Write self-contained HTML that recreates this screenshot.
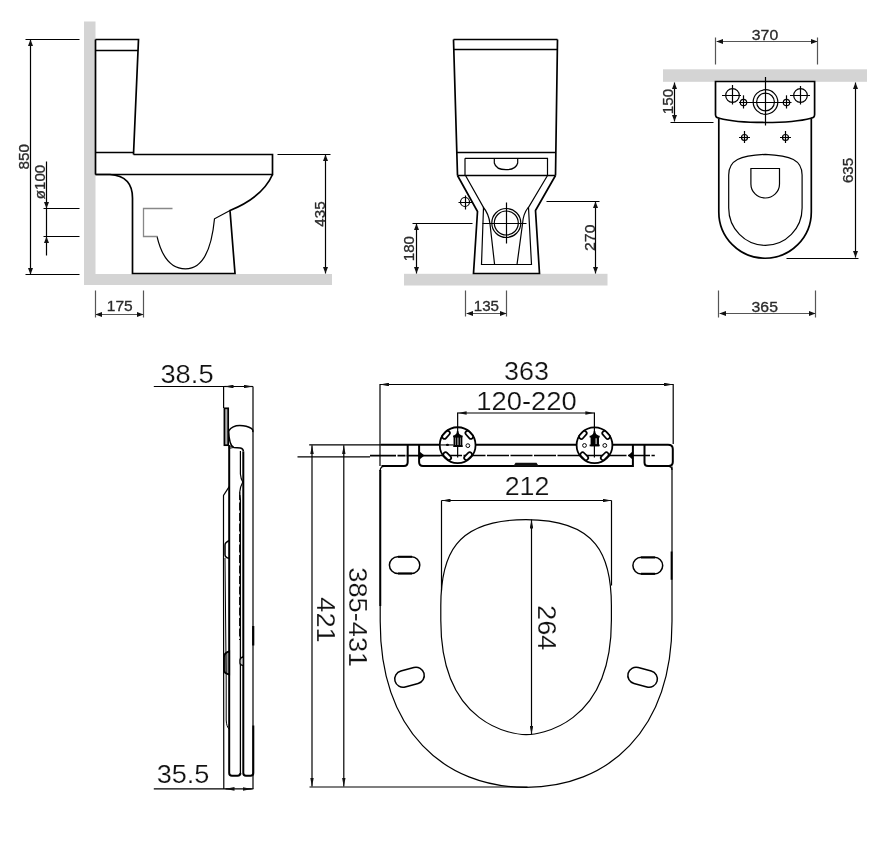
<!DOCTYPE html>
<html><head><meta charset="utf-8">
<style>
html,body{margin:0;padding:0;background:#fff;}
body{width:892px;height:844px;overflow:hidden;}
svg{display:block;font-family:"Liberation Sans",sans-serif;will-change:transform;}
.k{stroke:#000;fill:none;stroke-width:1.7;}
.t{stroke:#000;fill:none;stroke-width:1.2;}
.g{stroke:#555;fill:none;stroke-width:1.2;}
.d{stroke:#000;fill:none;stroke-width:1.2;}
.ah{fill:#111;stroke:none;}
.tx1{fill:#2a2a2a;stroke:#2a2a2a;stroke-width:0.3;}
.tx2{fill:#111;stroke:#fff;stroke-width:0.2;}
</style></head>
<body>
<svg width="892" height="844" viewBox="0 0 892 844">
<defs>
<marker id="a1" preserveAspectRatio="none" viewBox="0 0 10 10" refX="10" refY="5" markerWidth="6.5" markerHeight="5" orient="auto-start-reverse" markerUnits="userSpaceOnUse"><path d="M0,0 L10,5 L0,10 z" fill="#111"/></marker>
<marker id="a2" preserveAspectRatio="none" viewBox="0 0 10 10" refX="10" refY="5" markerWidth="9" markerHeight="3.6" orient="auto-start-reverse" markerUnits="userSpaceOnUse"><path d="M0,0 L10,5 L0,10 z" fill="#111"/></marker>
</defs>

<!-- ============ TOP LEFT: side view ============ -->
<g id="side">
<rect x="84" y="21.5" width="11.5" height="263.5" fill="#d4d4d4"/>
<rect x="84" y="274" width="248" height="11" fill="#d4d4d4"/>
<path class="k" d="M95.5,39.5 L138.5,39.5 L133.5,154.5 M95.5,50.5 L137.5,50.5 M95.5,152.5 L133.5,152.5 M133.5,154.5 L272.5,154.5 L272.5,174.5 L95.5,174.5 M95.5,39.5 L95.5,174.5"/>
<path class="k" d="M95.5,174.5 L110,174.5 Q132.5,176 132.5,198 L132.5,273.5 L235,273.5 L230,210.5 C248,203 265,192 272.5,174.5"/>
<path class="t" d="M230,210.5 L214.5,218.8 C212,245 205,268.8 185.5,268.8 C172,268.8 162,258 157,236.3"/>
<path stroke="#888" fill="none" stroke-width="1.3" d="M172.5,208.5 L143.5,208.5 L143.5,236.5 L157.5,236.5"/>
<!-- 850 -->
<path class="d" d="M25.5,39.5 L79.5,39.5 M25.5,274.5 L79.5,274.5"/>
<path class="d" d="M30.5,39.5 L30.5,274.5" marker-start="url(#a1)" marker-end="url(#a1)"/>
<!-- o100 -->
<path class="d" d="M43.5,208.5 L79.5,208.5 M43.5,236.5 L79.5,236.5"/>
<path class="d" d="M46.5,161.5 L46.5,208.5" marker-end="url(#a1)"/>
<path class="d" d="M46.5,255.5 L46.5,236.5" marker-end="url(#a1)"/>
<path class="d" d="M46.5,208.5 L46.5,236.5"/>
<!-- 435 -->
<path class="d" d="M277.5,154.5 L330.5,154.5"/>
<path class="d" d="M325.5,154.5 L325.5,273.5" marker-start="url(#a1)" marker-end="url(#a1)"/>
<!-- 175 -->
<path class="g" d="M95.5,290.5 L95.5,317.5 M143.5,290.5 L143.5,317.5"/>
<path class="g" d="M95.5,314.5 L143.5,314.5" marker-start="url(#a1)" marker-end="url(#a1)"/>
</g>

<!-- ============ TOP MIDDLE: front view ============ -->
<g id="front">
<rect x="404" y="273.8" width="203.5" height="11.7" fill="#d4d4d4"/>
<path class="k" d="M453.5,39.5 L557.5,39.5 M453.5,49.5 L557.5,49.5 M453.5,39.5 L457.5,175.5 M557.5,39.5 L555.5,175.5 M456.5,152.5 L555.5,152.5 M457.5,175.5 L555.5,175.5"/>
<path class="t" d="M465,158.3 L547.5,158.3 L547.5,175 M465,158.3 L465,175 M494.3,158.5 L494.3,163 Q496,169.7 506,169.7 Q516,169.7 517.7,163 L517.7,158.5"/>
<path class="k" d="M457.5,175.5 L477.5,211.5 L473.5,273.5 L539.5,273.5 L535.5,210.5 L555.5,175.5"/>
<path class="t" d="M465.5,175.5 L483.5,207.5 L481.5,264.5 L531.5,264.5 L528.5,207.5 L547.5,175.5"/>
<path class="t" d="M483.1,207 Q489,214 490,224 L494.6,264.6 M528.5,207 Q523,214 522.5,224 L517,264.6"/>
<circle class="t" cx="506.3" cy="223" r="14.5"/>
<circle class="t" cx="506.3" cy="223" r="12"/>
<path class="t" d="M506.5,202.5 L506.5,243.5 M482.5,223.5 L526.5,223.5"/>
<circle class="t" cx="465" cy="202" r="4.5"/>
<path class="t" d="M465.5,195.5 L465.5,209.5 M458.5,202.5 L472.5,202.5"/>
<!-- 180 -->
<path class="d" d="M412.5,223.5 L472.5,223.5"/>
<path class="d" d="M416.5,223.5 L416.5,273.5" marker-start="url(#a1)" marker-end="url(#a1)"/>
<!-- 270 -->
<path class="d" d="M546.5,201.5 L599.5,201.5"/>
<path class="d" d="M595.5,201.5 L595.5,273.5" marker-start="url(#a1)" marker-end="url(#a1)"/>
<!-- 135 -->
<path class="g" d="M465.5,290.5 L465.5,316.5 M506.5,290.5 L506.5,316.5"/>
<path class="g" d="M466.5,313.5 L506.5,313.5" marker-start="url(#a1)" marker-end="url(#a1)"/>
</g>

<!-- ============ TOP RIGHT: plan view ============ -->
<g id="plan">
<rect x="663" y="69.3" width="204" height="12.5" fill="#d4d4d4"/>
<path class="g" d="M715.5,37.5 L715.5,64.5 M817.5,37.5 L817.5,64.5"/>
<path class="g" d="M716.5,41.5 L817.5,41.5" marker-start="url(#a1)" marker-end="url(#a1)"/>
<path class="k" d="M715.5,81.5 L814.6,81.5 L814.6,114.5 Q814.6,117.8 811,118.2 C790,123.9 740,123.9 719.2,118.2 Q715.5,117.8 715.5,114.5 Z"/>
<path class="k" d="M718.8,118.5 L718.8,212 A46.25,46.25 0 0 0 811.3,212 L811.3,118.5"/>
<path class="t" d="M728.7,208 L728.7,175 C728.7,160 740,155.5 765.4,154.4 C791,155.5 802.1,160 802.1,175 L802.1,208 A36.7,37.4 0 0 1 728.7,208 Z"/>
<path class="t" d="M750.9,168.5 L779.5,168.5 L779.5,184 A14.3,14 0 0 1 750.9,184 Z"/>
<circle class="t" cx="732.5" cy="95.5" r="6.8"/><path class="t" d="M722,95.5 L741,95.5 M732.5,85 L732.5,104.6"/>
<circle class="t" cx="800.5" cy="95.5" r="6.8"/><path class="t" d="M790,95.5 L810,95.5 M800.5,86 L800.5,104.6"/>
<circle class="t" cx="765.5" cy="102" r="12.3"/><circle class="t" cx="765.5" cy="102" r="8.9"/>
<path class="t" d="M739,102.5 L791.5,102.5 M765.5,77 L765.5,125.6"/>
<circle class="t" cx="743.5" cy="102.5" r="3.2"/><path class="t" d="M743.5,95.3 L743.5,108.5"/>
<circle class="t" cx="786.5" cy="102.5" r="3.2"/><path class="t" d="M786.5,95.3 L786.5,108.5"/>
<circle class="t" cx="744.5" cy="137.5" r="3"/><path class="t" d="M744.5,131 L744.5,143 M739,137.5 L750,137.5"/>
<circle class="t" cx="785.5" cy="137.5" r="3"/><path class="t" d="M785.5,131 L785.5,143 M780,137.5 L791,137.5"/>
<!-- 150 -->
<path class="d" d="M670.5,122.5 L713.5,122.5"/>
<path class="d" d="M674.5,82.5 L674.5,121.5" marker-start="url(#a1)" marker-end="url(#a1)"/>
<!-- 635 -->
<path class="d" d="M786.5,258.5 L858.5,258.5"/>
<path class="d" d="M855.5,82.5 L855.5,257.5" marker-start="url(#a1)" marker-end="url(#a1)"/>
<!-- 365 -->
<path class="g" d="M718.5,290.5 L718.5,317.5 M815.5,290.5 L815.5,317.5"/>
<path class="g" d="M719.5,313.5 L815.5,313.5" marker-start="url(#a1)" marker-end="url(#a1)"/>
</g>

<!-- ============ BOTTOM LEFT: seat side ============ -->
<g id="seatside">
<path class="d" d="M153.8,386.5 L252.9,386.5 M223.6,386.5 L223.6,408 M253,386.5 L253,788.9"/>
<path class="d" d="M231,386.5 L224.5,386.5" marker-end="url(#a2)"/>
<path class="d" d="M245.5,386.5 L252.5,386.5" marker-end="url(#a2)"/>
<rect x="224.4" y="408.3" width="3.8" height="36.9" fill="#b0b0b0" stroke="#000" stroke-width="1.7"/>
<path stroke="#000" fill="none" stroke-width="1.5" d="M228.6,431 C231,427.5 235,425.6 239.8,425.6 C245,425.6 249,427 251.7,428.6 Q253.4,430 252.9,432.1"/>
<path stroke="#000" fill="none" stroke-width="1.5" d="M228.6,431 C229,440 231,446.5 233.9,447.5 L240.4,448.1 Q243.4,448.8 243.4,451.5"/>
<path fill="#aaa" stroke="#000" stroke-width="0.8" d="M229.2,445.5 L233.5,447.5 L229.2,448.5 Z"/>
<path stroke="#000" fill="none" stroke-width="2" d="M229.2,445.2 L229.2,773 Q229.2,775.8 232,775.8 L237.5,775.8 Q240.4,775.8 240.4,773"/>
<path stroke="#000" fill="none" stroke-width="1.3" d="M240.4,773 L240.4,500 L239.8,495"/>
<path stroke="#000" fill="none" stroke-width="1.4" stroke-dasharray="8,2.5" d="M239.8,492 L239.8,640"/>
<path stroke="#000" fill="none" stroke-width="1.2" d="M240.4,451 L240.4,474 Q240.8,479 242.8,482 Q240,487 239.8,492"/>
<path stroke="#000" fill="none" stroke-width="2" d="M243.3,451.5 L243.3,773 Q243.3,775.8 246,775.8 L250.5,775.8 Q253.3,775.8 253.3,773 L253.3,725.5"/>
<path stroke="#000" fill="none" stroke-width="2.2" d="M253.2,626 L253.2,645.5"/>
<path stroke="#000" fill="none" stroke-width="1.2" d="M229.2,486.6 L223.5,495.5 L223.5,560 L223.8,789"/>
<path stroke="#000" fill="none" stroke-width="1.5" d="M229.2,540.5 Q225,542.5 225,545 L225,554.7 Q225,557.5 229.2,558.3"/>
<path stroke="#000" fill="#999" stroke-width="1.8" d="M229.2,651.4 Q224,653 224,657 L224,670 Q224,673.5 229.2,674.5 Z"/>
<path stroke="#000" fill="#ccc" stroke-width="1.3" d="M243.3,656.7 Q240,658 240,660 L240,663 Q240,665 243.3,665.6 Z"/>
<path stroke="#000" fill="none" stroke-width="1" d="M225,558 L226.2,680 L226.2,720 Q226.5,727 229.2,729"/>
<path class="d" d="M153.8,788.9 L253.3,788.9"/>
<path class="d" d="M233,788.9 L225.5,788.9" marker-end="url(#a2)"/>
<path class="d" d="M244,788.9 L251.7,788.9" marker-end="url(#a2)"/>
</g>

<!-- ============ BOTTOM: seat top view ============ -->
<g id="seattop">
<path class="d" d="M380,384.5 L673,384.5" marker-start="url(#a2)" marker-end="url(#a2)"/>
<path class="d" d="M380,384 L380,466 M673.2,384 L673.2,444"/>
<path stroke="#000" fill="none" stroke-width="1.9" d="M380.3,470 L380.3,606 M671.6,551.4 L671.6,579.8"/>
<path stroke="#000" fill="none" stroke-width="1.3" d="M380.2,471 Q380.2,466.5 384,466.3 M672,470 Q672,466.5 668.5,466.3"/>
<path class="d" d="M457.65,413 L594.4,413" marker-start="url(#a2)" marker-end="url(#a2)"/>
<path class="d" d="M457.65,412.5 L457.65,457.6 M594.4,412.5 L594.4,457.6"/>
<!-- hinge bar -->
<path stroke="#000" fill="none" stroke-width="2" d="M381,444.7 L440,444.7 M475.5,444.7 L576.5,444.7 M612.5,444.7 L668,444.7 Q672.8,444.7 672.8,449 L672.8,462 Q672.8,466 668.5,466 L648,466 Q644.5,466 644.5,462.5 L644.5,444.7"/>
<path stroke="#000" fill="none" stroke-width="1.1" d="M297.5,456.9 L370,456.9"/>
<path stroke="#000" fill="none" stroke-width="1.9" d="M370,455.6 L396,455.6 M397.5,455.6 L405.5,455.6 M406.5,455.6 L440,455.6"/>
<path stroke="#000" fill="none" stroke-width="1.5" stroke-dasharray="22,1.5" d="M440,455.6 L654.8,455.6"/>
<path stroke="#000" fill="none" stroke-width="2" d="M381.5,466 L404,466 Q407.7,466 407.7,462 L407.7,444.7 M419.1,444.7 L419.1,462 Q419.1,466 423,466 L632.9,466 L632.9,444.7"/>
<path fill="#000" d="M419.5,451.5 L424.5,455.6 L419.5,459.5 Z M632.5,451.5 L628,455.6 L632.5,459.5 Z"/>
<path class="ah" d="M513.2,466.5 L515.5,462.8 L536.5,462.8 L539,466.5 Z"/>
<g id="hingeL" transform="translate(457.65,445.15)">
<circle r="17.9" fill="none" stroke="#000" stroke-width="1.8"/>
<path stroke="#000" stroke-width="1.1" fill="none" d="M-17.5,-0.2 L-4,-0.2"/>
<ellipse cx="-10.2" cy="-0.2" rx="1.6" ry="1.1" fill="#000"/>
<circle cx="10.2" cy="0.5" r="1.9" fill="none" stroke="#000" stroke-width="1"/>
<path stroke="#000" fill="#fff" stroke-width="1.8" d="M-3.2,-8.5 L3.8,-8.5 L3.8,0.8 L-3.2,0.8 Z"/>
<path stroke="#000" fill="none" stroke-width="1.8" d="M-4.5,-8.8 L4.9,-8.8 M-4.3,1 L5,1 M-1,-8 L-1,0.5 M1.6,-8 L1.6,0.5 M0,-14 L0,-8.3 M-3,-9 Q0,-10.5 0,-13 Q0,-10.5 3.3,-9"/>
<rect x="-4.6" y="-2.2" width="9.2" height="4.4" rx="2.2" fill="#fff" stroke="#000" stroke-width="1.7" transform="translate(-11.6,-10.3) rotate(-48)"/>
<rect x="-4.6" y="-2.2" width="9.2" height="4.4" rx="2.2" fill="#fff" stroke="#000" stroke-width="1.7" transform="translate(11.6,-10.3) rotate(48)"/>
<rect x="-4.6" y="-2.2" width="9.2" height="4.4" rx="2.2" fill="#fff" stroke="#000" stroke-width="1.7" transform="translate(-10.4,11) rotate(45)"/>
<rect x="-4.6" y="-2.2" width="9.2" height="4.4" rx="2.2" fill="#fff" stroke="#000" stroke-width="1.7" transform="translate(10.4,11) rotate(-45)"/>
</g>
<g id="hingeR" transform="translate(594.5,445.25)">
<circle r="17.9" fill="none" stroke="#000" stroke-width="1.8"/>
<circle cx="-10" cy="0.2" r="1.9" fill="none" stroke="#000" stroke-width="1"/>
<circle cx="10.3" cy="0.2" r="1.9" fill="none" stroke="#000" stroke-width="1"/>
<path stroke="#000" fill="#000" stroke-width="1.8" d="M-3,-8.7 L3.6,-8.7 L3.6,0.2 L-3,0.2 Z"/>
<path stroke="#fff" fill="none" stroke-width="1" d="M1.6,-7 L1.6,-1"/>
<path stroke="#000" fill="none" stroke-width="1.8" d="M-4.9,-8.7 L5.2,-8.7 M-4.9,0.2 L5.2,0.2 M0,-14 L0,-8.7 M-3,-9 Q0,-10.5 0,-13 Q0,-10.5 3.3,-9"/>
<rect x="-4.6" y="-2.2" width="9.2" height="4.4" rx="2.2" fill="#fff" stroke="#000" stroke-width="1.7" transform="translate(-11.6,-10.3) rotate(-48)"/>
<rect x="-4.6" y="-2.2" width="9.2" height="4.4" rx="2.2" fill="#fff" stroke="#000" stroke-width="1.7" transform="translate(11.6,-10.3) rotate(48)"/>
<rect x="-4.6" y="-2.2" width="9.2" height="4.4" rx="2.2" fill="#fff" stroke="#000" stroke-width="1.7" transform="translate(-10.2,11) rotate(45)"/>
<rect x="-4.6" y="-2.2" width="9.2" height="4.4" rx="2.2" fill="#fff" stroke="#000" stroke-width="1.7" transform="translate(10.2,11) rotate(-45)"/>
</g>
<!-- left dims -->
<path class="d" d="M309.2,444.8 L381,444.8 M309.5,787 L527.5,787"/>
<path class="d" d="M312,445.3 L312,786.5" marker-start="url(#a2)" marker-end="url(#a2)"/>
<path class="d" d="M343.8,445.3 L343.8,786.5" marker-start="url(#a2)" marker-end="url(#a2)"/>
<!-- seat outline -->
<path class="t" d="M380.2,470 L380.2,621.3 C380.2,731.7 444.7,787.3 526.1,787.3 C607.5,787.3 672,731.7 672,621.3 L672,466.5"/>
<path class="t" d="M440.8,605.8 C440.8,556 454.5,519.6 526,519.6 C597.5,519.6 611.4,556 611.4,605.8 L611.4,620.2 C611.4,726.8 537.7,734.6 526.1,734.6 C514.5,734.6 440.8,726.8 440.8,620.2 Z"/>
<!-- 212 -->
<path class="d" d="M441.5,500.5 L611.5,500.5" marker-start="url(#a2)" marker-end="url(#a2)"/>
<path class="d" d="M441.5,500.5 L441.5,590.5 M611.5,500.5 L611.5,585.5"/>
<!-- 264 -->
<path class="d" d="M531.5,519.5 L531.5,734.5" marker-start="url(#a2)" marker-end="url(#a2)"/>
<!-- slots -->
<rect x="389.4" y="556.7" width="30.4" height="16.8" rx="8.4" fill="none" stroke="#000" stroke-width="1.5"/>
<path stroke="#000" stroke-width="2" d="M398,556.8 L412,556.8 M398,573.6 L412,573.6"/>
<rect x="632.9" y="557.3" width="29.8" height="16.6" rx="8.3" fill="none" stroke="#000" stroke-width="1.5"/>
<path stroke="#000" stroke-width="2" d="M641,557.4 L655,557.4 M641,573.8 L655,573.8"/>
<rect x="-15" y="-8.3" width="30" height="16.6" rx="8.3" fill="none" stroke="#000" stroke-width="1.5" transform="translate(409.5,677.2) rotate(-15)"/>
<rect x="-15" y="-8.3" width="30" height="16.6" rx="8.3" fill="none" stroke="#000" stroke-width="1.5" transform="translate(642.6,677.2) rotate(15)"/>
</g>
<g id="texts">
<text class="tx1" transform="translate(23.50,156.75) rotate(-90) scale(1.0528,1)" x="0" y="5.00" text-anchor="middle" style="font-size:14.50px">850</text>
<text class="tx1" transform="translate(39.50,182.00) rotate(-90) scale(1.0379,1)" x="0" y="5.00" text-anchor="middle" style="font-size:14.50px">ø100</text>
<text class="tx1" transform="translate(319.50,214.00) rotate(-90) scale(1.0452,1)" x="0" y="5.00" text-anchor="middle" style="font-size:14.50px">435</text>
<text class="tx1" transform="translate(119.75,306.00) rotate(0) scale(1.0708,1)" x="0" y="5.00" text-anchor="middle" style="font-size:14.50px">175</text>
<text class="tx1" transform="translate(409.12,248.62) rotate(-90) scale(1.0442,1)" x="0" y="5.00" text-anchor="middle" style="font-size:14.50px">180</text>
<text class="tx1" transform="translate(589.50,237.75) rotate(-90) scale(1.0879,1)" x="0" y="5.00" text-anchor="middle" style="font-size:14.50px">270</text>
<text class="tx1" transform="translate(486.38,306.25) rotate(0) scale(1.0442,1)" x="0" y="5.00" text-anchor="middle" style="font-size:14.50px">135</text>
<text class="tx1" transform="translate(765.00,34.50) rotate(0) scale(1.0887,1)" x="0" y="5.00" text-anchor="middle" style="font-size:14.50px">370</text>
<text class="tx1" transform="translate(667.50,101.50) rotate(-90) scale(1.0474,1)" x="0" y="5.00" text-anchor="middle" style="font-size:14.50px">150</text>
<text class="tx1" transform="translate(847.62,170.50) rotate(-90) scale(1.0435,1)" x="0" y="5.00" text-anchor="middle" style="font-size:14.50px">635</text>
<text class="tx1" transform="translate(764.75,307.00) rotate(0) scale(1.0879,1)" x="0" y="5.00" text-anchor="middle" style="font-size:14.50px">365</text>
<text class="tx2" transform="translate(187.00,374.00) rotate(0) scale(1.0506,1)" x="0" y="8.97" text-anchor="middle" style="font-size:26.00px">38.5</text>
<text class="tx2" transform="translate(183.00,774.00) rotate(0) scale(1.0425,1)" x="0" y="8.97" text-anchor="middle" style="font-size:26.00px">35.5</text>
<text class="tx2" transform="translate(526.50,371.00) rotate(0) scale(1.0344,1)" x="0" y="8.97" text-anchor="middle" style="font-size:26.00px">363</text>
<text class="tx2" transform="translate(526.50,401.00) rotate(0) scale(1.0538,1)" x="0" y="8.97" text-anchor="middle" style="font-size:26.00px">120-220</text>
<text class="tx2" transform="translate(527.00,486.50) rotate(0) scale(1.0300,1)" x="0" y="8.97" text-anchor="middle" style="font-size:26.00px">212</text>
<text class="tx2" transform="translate(325.75,620.00) rotate(90) scale(1.0482,1)" x="0" y="8.97" text-anchor="middle" style="font-size:26.00px">421</text>
<text class="tx2" transform="translate(358.25,617.25) rotate(90) scale(1.0474,1)" x="0" y="8.97" text-anchor="middle" style="font-size:26.00px">385-431</text>
<text class="tx2" transform="translate(546.75,627.75) rotate(90) scale(1.0496,1)" x="0" y="8.97" text-anchor="middle" style="font-size:26.00px">264</text>
</g>
</svg>
</body></html>
